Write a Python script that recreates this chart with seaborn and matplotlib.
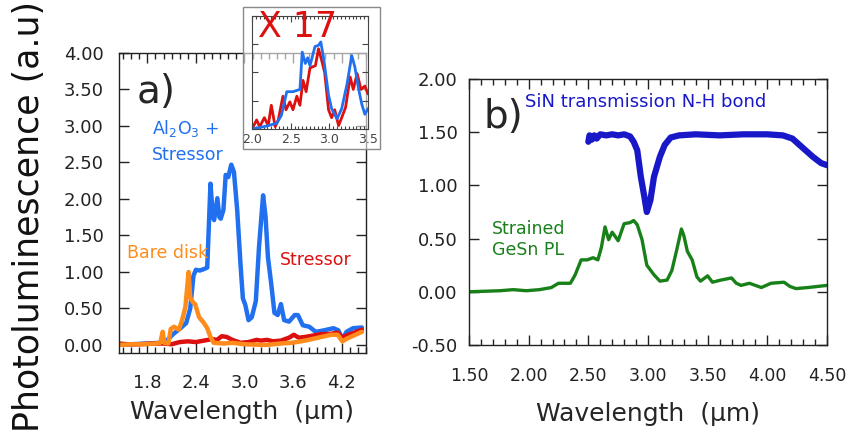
import matplotlib
matplotlib.use("Agg")
import matplotlib.pyplot as plt
from matplotlib.patches import Rectangle
from matplotlib.ticker import MultipleLocator, FixedLocator, NullLocator
import seaborn as sns

# ---------------- panel a: PL spectra ----------------
wl_al2o3 = [1.45, 1.60, 1.80, 1.95, 2.05, 2.12, 2.20, 2.28, 2.33, 2.37, 2.40, 2.45,
            2.50, 2.54, 2.58, 2.61, 2.625, 2.665, 2.69, 2.707, 2.74, 2.768, 2.80,
            2.837, 2.87, 2.91, 2.95, 2.98, 3.01, 3.05, 3.09, 3.14, 3.18, 3.23,
            3.26, 3.29, 3.33, 3.37, 3.41, 3.45, 3.49, 3.55, 3.62, 3.66, 3.72,
            3.80, 3.88, 3.98, 4.10, 4.16, 4.21, 4.26, 4.34, 4.45]
pl_al2o3 = [0.01, 0.01, 0.02, 0.03, 0.07, 0.15, 0.22, 0.30, 0.50, 0.95, 1.03, 1.02,
            1.04, 1.06, 2.21, 1.75, 1.71, 2.01, 1.75, 1.73, 1.85, 2.33, 2.30,
            2.47, 2.37, 1.85, 1.12, 0.64, 0.55, 0.34, 0.38, 0.60, 1.35, 2.05,
            1.76, 1.20, 0.84, 0.44, 0.41, 0.56, 0.34, 0.32, 0.41, 0.41, 0.27,
            0.25, 0.18, 0.20, 0.23, 0.20, 0.08, 0.18, 0.23, 0.24]

wl_stressor = [1.45, 1.55, 1.70, 1.85, 2.00, 2.10, 2.20, 2.30, 2.40, 2.50, 2.60,
               2.66, 2.72, 2.78, 2.85, 2.95, 3.05, 3.15, 3.20, 3.28, 3.35, 3.45,
               3.55, 3.61, 3.67, 3.75, 3.85, 3.95, 4.05, 4.15, 4.21, 4.28, 4.36, 4.45]
pl_stressor = [0.02, 0.01, 0.01, 0.02, 0.02, 0.01, 0.04, 0.05, 0.04, 0.06, 0.08,
               0.07, 0.12, 0.11, 0.07, 0.03, 0.04, 0.07, 0.06, 0.07, 0.05, 0.06,
               0.10, 0.14, 0.10, 0.11, 0.13, 0.15, 0.15, 0.17, 0.10, 0.14, 0.17, 0.21]

wl_bare = [1.45, 1.60, 1.75, 1.90, 1.96, 1.99, 2.01, 2.06, 2.09, 2.13, 2.19, 2.23,
           2.27, 2.31, 2.33, 2.36, 2.39, 2.44, 2.50, 2.54, 2.58, 2.62, 2.75, 2.85,
           3.00, 3.26, 3.45, 3.58, 3.70, 3.79, 3.95, 4.07, 4.15, 4.21, 4.27, 4.37, 4.45]
pl_bare = [0.00, 0.01, 0.01, 0.02, 0.03, 0.18, 0.03, 0.02, 0.22, 0.25, 0.21, 0.34,
           0.52, 1.00, 0.65, 0.59, 0.56, 0.38, 0.30, 0.23, 0.11, 0.03, 0.02, 0.03,
           0.01, 0.00, 0.02, 0.03, 0.05, 0.07, 0.11, 0.14, 0.14, 0.05, 0.09, 0.14, 0.18]

# inset: normalised spectra (stressor magnified x17)
wl_inset_blue = [2.00, 2.15, 2.32, 2.38, 2.45, 2.53, 2.62, 2.65, 2.69, 2.72, 2.75,
                 2.815, 2.86, 2.89, 2.93, 2.99, 3.03, 3.10, 3.16, 3.23, 3.29, 3.33,
                 3.38, 3.42, 3.46, 3.50]
pl_inset_blue = [0.00, 0.02, 0.05, 0.12, 0.33, 0.33, 0.35, 0.68, 0.58, 0.63, 0.56,
                 0.73, 0.74, 0.77, 0.61, 0.30, 0.18, 0.09, 0.18, 0.40, 0.65, 0.55,
                 0.35, 0.22, 0.13, 0.18]
wl_inset_red = [2.00, 2.06, 2.10, 2.16, 2.21, 2.25, 2.30, 2.34, 2.40, 2.44, 2.49,
                2.53, 2.58, 2.62, 2.66, 2.70, 2.75, 2.82, 2.86, 2.90, 2.94, 2.99,
                3.03, 3.07, 3.12, 3.16, 3.21, 3.27, 3.31, 3.36, 3.41, 3.46, 3.50]
pl_inset_red = [0.00, 0.08, 0.02, 0.10, 0.03, 0.21, 0.02, 0.08, 0.29, 0.17, 0.24,
                0.17, 0.29, 0.21, 0.43, 0.33, 0.54, 0.56, 0.71, 0.61, 0.50, 0.17,
                0.10, 0.17, 0.03, 0.10, 0.19, 0.46, 0.35, 0.49, 0.35, 0.38, 0.31]

# ---------------- panel b: GeSn PL and SiN transmission ----------------
wl_gesn = [1.50, 1.76, 1.87, 1.98, 2.09, 2.19, 2.25, 2.35, 2.39, 2.44, 2.49, 2.54,
           2.58, 2.61, 2.64, 2.67, 2.70, 2.75, 2.80, 2.85, 2.88, 2.91, 2.95, 2.99,
           3.05, 3.10, 3.16, 3.20, 3.24, 3.28, 3.30, 3.33, 3.37, 3.41, 3.44, 3.50,
           3.54, 3.61, 3.70, 3.74, 3.78, 3.85, 3.95, 4.03, 4.14, 4.19, 4.24, 4.34,
           4.42, 4.50]
pl_gesn = [0.00, 0.01, 0.02, 0.01, 0.02, 0.04, 0.08, 0.08, 0.16, 0.30, 0.30, 0.32,
           0.30, 0.42, 0.61, 0.49, 0.56, 0.48, 0.64, 0.65, 0.67, 0.63, 0.49, 0.25,
           0.16, 0.10, 0.11, 0.20, 0.39, 0.59, 0.53, 0.38, 0.30, 0.14, 0.10, 0.15,
           0.09, 0.11, 0.13, 0.08, 0.06, 0.08, 0.04, 0.08, 0.09, 0.05, 0.03, 0.04,
           0.05, 0.06]

wl_sin = [2.50, 2.51, 2.53, 2.55, 2.57, 2.60, 2.65, 2.70, 2.75, 2.80, 2.85, 2.88,
          2.91, 2.94, 2.97, 2.99, 3.02, 3.05, 3.10, 3.14, 3.19, 3.26, 3.40, 3.60,
          3.80, 4.00, 4.13, 4.21, 4.29, 4.38, 4.45, 4.50]
tr_sin = [1.41, 1.47, 1.43, 1.47, 1.44, 1.48, 1.47, 1.48, 1.47, 1.48, 1.46, 1.41,
          1.33, 1.08, 0.89, 0.75, 0.86, 1.08, 1.27, 1.38, 1.45, 1.47, 1.48, 1.47,
          1.48, 1.48, 1.47, 1.44, 1.36, 1.27, 1.21, 1.19]

ticks_a_x = [1.8, 2.4, 3.0, 3.6, 4.2]
ticks_a_y = [0.0, 0.5, 1.0, 1.5, 2.0, 2.5, 3.0, 3.5, 4.0]
ticks_b_x = [1.5, 2.0, 2.5, 3.0, 3.5, 4.0, 4.5]
ticks_b_y = [-0.5, 0.0, 0.5, 1.0, 1.5, 2.0]
ticks_inset_x = [2.0, 2.5, 3.0, 3.5]

C_BLUE = "#2070f0"
C_RED = "#dd1010"
C_ORANGE = "#ff8c1a"
C_NAVY = "#1818c8"
C_GREEN = "#188018"

sns.set_style("ticks")
plt.rcParams["font.family"] = ["DejaVu Sans"]
plt.rcParams["mathtext.default"] = "regular"
plt.rcParams["axes.linewidth"] = 1.0

fig = plt.figure(figsize=(8.51, 4.34), dpi=100)

ax_a = fig.add_axes([0.1398, 0.1866, 0.2902, 0.6914])
ax_b = fig.add_axes([0.5511, 0.2051, 0.4207, 0.6129])


def style_axis(ax, xmajor, ymajor, xminor=0.1):
    ax.xaxis.set_major_locator(FixedLocator(xmajor))
    ax.yaxis.set_major_locator(FixedLocator(ymajor))
    ax.xaxis.set_minor_locator(MultipleLocator(xminor))
    ax.yaxis.set_minor_locator(NullLocator())
    ax.tick_params(which="both", direction="in", top=True, right=True,
                   bottom=True, left=True, colors="#222222", width=1.0)
    ax.tick_params(which="major", length=7, labelsize=13, pad=8)
    ax.tick_params(which="minor", length=4.5)
    for s in ax.spines.values():
        s.set_color("#222222")


# panel a
sns.lineplot(x=wl_al2o3, y=pl_al2o3, ax=ax_a, color=C_BLUE, lw=3.2, estimator=None)
sns.lineplot(x=wl_stressor, y=pl_stressor, ax=ax_a, color=C_RED, lw=3.2, estimator=None)
sns.lineplot(x=wl_bare, y=pl_bare, ax=ax_a, color=C_ORANGE, lw=3.2, estimator=None)
ax_a.set_xlim(1.45, 4.5)
ax_a.set_ylim(-0.11, 4.0)
style_axis(ax_a, ticks_a_x, ticks_a_y)
ax_a.set_xticklabels([f"{v:.1f}" for v in ticks_a_x])
ax_a.set_yticklabels([f"{v:.2f}" for v in ticks_a_y])
ax_a.tick_params(axis="x", which="major", pad=15)
ax_a.tick_params(axis="y", which="major", pad=11)
ax_a.set_xlabel("Wavelength  (\u03bcm)", fontsize=18, labelpad=6)
ax_a.set_ylabel("")

ax_a.text(0.07, 0.87, "a)", transform=ax_a.transAxes, fontsize=28,
          ha="left", va="center")
ax_a.text(1.86, 2.97, "Al$_2$O$_3$ +", color=C_BLUE, fontsize=12.5,
          ha="left", va="center")
ax_a.text(1.86, 2.60, "Stressor", color=C_BLUE, fontsize=12.5,
          ha="left", va="center")
ax_a.text(1.55, 1.26, "Bare disk", color=C_ORANGE, fontsize=12.5,
          ha="left", va="center")
ax_a.text(3.44, 1.16, "Stressor", color=C_RED, fontsize=12.5,
          ha="left", va="center")

fig.text(0.034, 0.5, "Photoluminescence (a.u)", rotation=90, fontsize=25,
         ha="center", va="center", color="#111111")

# panel b
sns.lineplot(x=wl_sin, y=tr_sin, ax=ax_b, color=C_NAVY, lw=4.5, estimator=None)
sns.lineplot(x=wl_gesn, y=pl_gesn, ax=ax_b, color=C_GREEN, lw=2.4, estimator=None)
ax_b.set_xlim(1.5, 4.5)
ax_b.set_ylim(-0.5, 2.0)
style_axis(ax_b, ticks_b_x, ticks_b_y)
ax_b.set_xticklabels([f"{v:.2f}" for v in ticks_b_x])
ax_b.set_yticklabels([f"{v:.2f}" for v in ticks_b_y])
ax_b.tick_params(axis="x", which="major", pad=16, labelsize=12.5)
ax_b.set_xlabel("Wavelength  (\u03bcm)", fontsize=18, labelpad=12)
ax_b.set_ylabel("")

ax_b.text(0.04, 0.857, "b)", transform=ax_b.transAxes, fontsize=28,
          ha="left", va="center")
ax_b.text(1.97, 1.78, "SiN transmission N-H bond", color=C_NAVY, fontsize=13,
          ha="left", va="center")
ax_b.text(1.69, 0.59, "Strained", color=C_GREEN, fontsize=12.5,
          ha="left", va="center")
ax_b.text(1.69, 0.39, "GeSn PL", color=C_GREEN, fontsize=12.5,
          ha="left", va="center")

# inset with its grey frame
frame = Rectangle((0.2855, 0.657), 0.161, 0.327, transform=fig.transFigure,
                  facecolor=(1, 1, 1, 0.6), edgecolor="#8a8a8a", lw=1.0, zorder=1)
fig.patches.append(frame)

ax_in = fig.add_axes([0.2961, 0.7028, 0.1363, 0.2604], zorder=2)
ax_in.patch.set_alpha(0)
sns.lineplot(x=wl_inset_red, y=pl_inset_red, ax=ax_in, color=C_RED, lw=2.0, estimator=None)
sns.lineplot(x=wl_inset_blue, y=pl_inset_blue, ax=ax_in, color=C_BLUE, lw=2.0, estimator=None)
ax_in.set_xlim(2.0, 3.5)
ax_in.set_ylim(0.0, 1.0)
ax_in.xaxis.set_major_locator(FixedLocator(ticks_inset_x))
ax_in.xaxis.set_minor_locator(MultipleLocator(0.05))
ax_in.yaxis.set_major_locator(MultipleLocator(0.25))
ax_in.set_xticklabels([f"{v:.1f}" for v in ticks_inset_x])
ax_in.set_yticklabels([])
ax_in.tick_params(which="both", direction="in", top=True, right=True,
                  colors="#444444", width=0.8, labelsize=9, pad=3)
ax_in.tick_params(which="major", length=4)
ax_in.tick_params(which="minor", length=2.5)
for s in ax_in.spines.values():
    s.set_color("#444444")
    s.set_linewidth(0.8)

fig.text(0.303, 0.938, "X 17", color=C_RED, fontsize=25, ha="left", va="center",
         zorder=3)

fig.savefig("out.png", dpi=100)
